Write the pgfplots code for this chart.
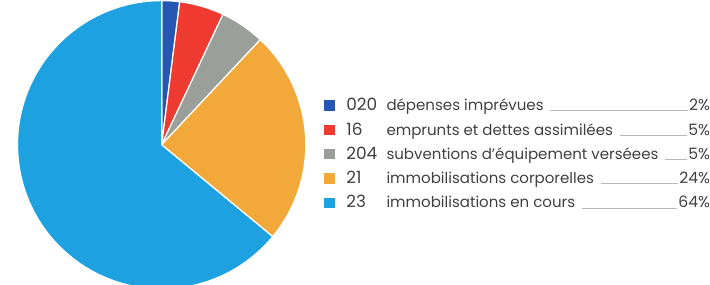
\documentclass[border=0pt]{standalone}
\usepackage{pgfplots}
\usepackage{pgfplotstable}
\pgfplotsset{compat=1.18}
\usepackage{fontspec}
\setmainfont{Poppins}
\definecolor{c0}{HTML}{2456B2}
\definecolor{c1}{HTML}{EE3A30}
\definecolor{c2}{HTML}{9B9F9A}
\definecolor{c3}{HTML}{F3A93A}
\definecolor{c4}{HTML}{1DA1E0}
\definecolor{txt}{HTML}{404040}
\pgfplotstableread[col sep=comma]{
code,label,value
020,dépenses imprévues,2
16,emprunts et dettes assimilées,5
204,subventions d’équipement verséees,5
21,immobilisations corporelles,24
23,immobilisations en cours,64
}\slices
\begin{document}
\begin{tikzpicture}
\begin{axis}[
  at={(0,0)}, anchor=south west,
  width=355pt, height=144.5pt, scale only axis,
  xmin=0, xmax=710, ymin=0, ymax=289,
  axis lines=none, clip=true,
]
\pgfplotstablegetrowsof{\slices}
\pgfmathtruncatemacro\N{\pgfplotsretval-1}
\def\cum{0}
\pgfplotsforeachungrouped \i in {0,...,\N}{%
  \pgfplotstablegetelem{\i}{value}\of\slices \let\v\pgfplotsretval
  \pgfplotstablegetelem{\i}{code}\of\slices \let\cd\pgfplotsretval
  \pgfplotstablegetelem{\i}{label}\of\slices \let\lb\pgfplotsretval
  \pgfmathsetmacro\a{90-3.6*\cum}%
  \pgfmathsetmacro\b{90-3.6*(\cum+\v)}%
  \pgfmathsetmacro\ry{289-115-23.6*\i}%
  \pgfmathtruncatemacro\vv{\v}%
  \edef\temp{%
    \noexpand\fill[fill=c\i, draw=white, line width=0.6pt] (axis cs:157,136) -- ++(\a:70pt) arc[start angle=\a, end angle=\b, radius=70pt] -- cycle;
    \noexpand\fill[c\i] (axis cs:315,\ry) ++(0,-2.5pt) rectangle ++(5pt,5pt);
    \noexpand\node[anchor=base west, inner sep=0pt, font=\noexpand\fontsize{8.2}{9}\noexpand\selectfont, text=txt] at (axis cs:336,\ry-5) {\cd};
    \noexpand\node[anchor=base west, inner sep=0pt, font=\noexpand\fontsize{7.3}{8}\noexpand\selectfont, text=txt] (d\i) at (axis cs:375,\ry-5) {\lb};
    \noexpand\node[anchor=base east, inner sep=0pt, font=\noexpand\fontsize{7.6}{8}\noexpand\selectfont, text=txt] (p\i) at (axis cs:690,\ry-5) {\vv\noexpand\%};
    \noexpand\draw[gray!55, line width=0.3pt] ([xshift=3pt]d\i.base east) -- ([xshift=-0.5pt]p\i.base west);
  }%
  \temp
  \pgfmathsetmacro\cum{\cum+\v}%
}
\end{axis}
\end{tikzpicture}
\end{document}
